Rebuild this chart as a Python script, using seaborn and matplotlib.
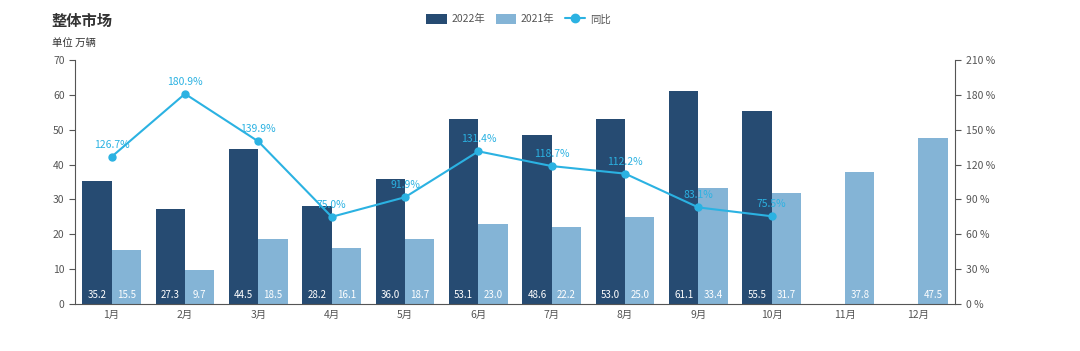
import numpy as np
import pandas as pd
import matplotlib
matplotlib.use("Agg")
import matplotlib.pyplot as plt
import seaborn as sns
from matplotlib.patches import Patch
from matplotlib.lines import Line2D

# data
months = ["1月", "2月", "3月", "4月", "5月", "6月", "7月", "8月", "9月", "10月", "11月", "12月"]
sales_2022 = [35.2, 27.3, 44.5, 28.2, 36.0, 53.1, 48.6, 53.0, 61.1, 55.5, np.nan, np.nan]
sales_2021 = [15.5, 9.7, 18.5, 16.1, 18.7, 23.0, 22.2, 25.0, 33.4, 31.7, 37.8, 47.5]
yoy = [126.7, 180.9, 139.9, 75.0, 91.9, 131.4, 118.7, 112.2, 83.1, 75.5]

c_2022 = "#264b72"
c_2021 = "#84b4d6"
c_line = "#2bb2e2"
grey = "#555555"

sns.set_theme(style="white")
plt.rcParams["font.family"] = ["Noto Sans CJK SC", "DejaVu Sans"]

df = pd.DataFrame({
    "month": months * 2,
    "value": sales_2022 + sales_2021,
    "year": ["2022年"] * 12 + ["2021年"] * 12,
})

fig = plt.figure(figsize=(10.8, 3.51), dpi=100)
ax = fig.add_axes([0.0694, 0.134, 0.815, 0.695])

sns.barplot(data=df, x="month", y="value", hue="year", order=months,
            hue_order=["2022年", "2021年"], palette=[c_2022, c_2021],
            width=0.8, saturation=1, linewidth=0, edgecolor="none",
            ax=ax, legend=False)

# value labels at bar bottoms
for cont, vals in zip(ax.containers, [sales_2022, sales_2021]):
    for patch, v in zip(cont.patches, vals):
        if np.isnan(v):
            continue
        ax.text(patch.get_x() + patch.get_width() / 2, 2.6, f"{v:.1f}",
                ha="center", va="center", color="white", fontsize=7)

ax.set_ylim(0, 70)
ax.set_yticks(range(0, 71, 10))
ax.set_xlim(-0.5, 11.5)
ax.set_xticks(np.arange(-0.5, 12, 1), minor=True)
ax.tick_params(axis="x", which="major", length=0, labelsize=7.5, colors=grey, pad=4)
ax.tick_params(axis="x", which="minor", length=4, color=grey, direction="out")
ax.tick_params(axis="y", length=4, width=0.8, direction="out", color=grey, labelsize=7.5, labelcolor=grey, left=True)
ax.set_xlabel("")
ax.set_ylabel("")
for s in ["top", "right"]:
    ax.spines[s].set_visible(False)
for s in ["left", "bottom"]:
    ax.spines[s].set_color(grey)
    ax.spines[s].set_linewidth(0.8)

# yoy line
ax2 = ax.twinx()
ax2.plot(range(len(yoy)), yoy, color=c_line, lw=1.5, marker="o", ms=5)
for i, v in enumerate(yoy):
    ax2.text(i, v + 6, f"{v:.1f}%", ha="center", va="bottom", color=c_line, fontsize=7.5)
ax2.set_ylim(0, 210)
ax2.set_yticks(range(0, 211, 30))
ax2.set_yticklabels([f"{t} %" for t in range(0, 211, 30)])
ax2.tick_params(axis="y", length=4, width=0.8, direction="out", color=grey, labelsize=7.5, labelcolor=grey, right=True)
for s in ["top", "left", "bottom"]:
    ax2.spines[s].set_visible(False)
ax2.spines["right"].set_color(grey)
ax2.spines["right"].set_linewidth(0.8)
ax2.grid(False)
ax.grid(False)

# titles
fig.text(0.048, 0.94, "整体市场", fontsize=11, fontweight="bold", color="#333333", va="center")
fig.text(0.048, 0.878, "单位 万辆", fontsize=7.5, color="#333333", va="center")

# legend
handles = [
    Patch(facecolor=c_2022, edgecolor="none"),
    Patch(facecolor=c_2021, edgecolor="none"),
    Line2D([0], [0], color=c_line, lw=1.5, marker="o", ms=6),
]
fig.legend(handles, ["2022年", "2021年", "同比"], loc="center", bbox_to_anchor=(0.48, 0.945),
           ncol=3, frameon=False, fontsize=7.5, handlelength=2, handleheight=1,
           columnspacing=1.0, handletextpad=0.4, labelcolor=grey)

fig.savefig("out.png", dpi=100)
